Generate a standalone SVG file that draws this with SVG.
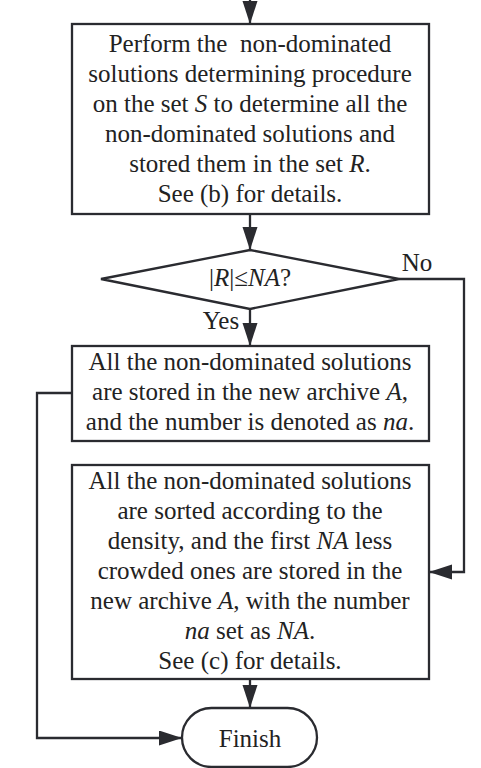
<svg xmlns="http://www.w3.org/2000/svg" width="481" height="768" viewBox="0 0 481 768">
<style>
.box{fill:#fff;stroke:#2a2b30;stroke-width:2.3}
.ln{fill:none;stroke:#2a2b30;stroke-width:2.3}
text{font-family:"Liberation Serif","Times New Roman",serif;font-size:25px;fill:#222;text-anchor:middle}
.i{font-style:italic}
</style>
<defs>
<marker id="ah" markerUnits="userSpaceOnUse" markerWidth="24" markerHeight="16" refX="23" refY="7.5" orient="auto" viewBox="0 0 24 16">
<path d="M0,0 L23,7.5 L0,15 Z" fill="#2a2b30"/>
</marker>
</defs>
<rect width="481" height="768" fill="#fff"/>
<g id="connectors">
<line class="ln" x1="250" y1="-4" x2="250" y2="24" marker-end="url(#ah)"/>
<line class="ln" x1="250" y1="214" x2="250" y2="250" marker-end="url(#ah)"/>
<line class="ln" x1="250" y1="309" x2="250" y2="346" marker-end="url(#ah)"/>
<polyline class="ln" points="399,279 464,279 464,572 429,572" marker-end="url(#ah)"/>
<line class="ln" x1="250" y1="679" x2="250" y2="708" marker-end="url(#ah)"/>
<polyline class="ln" points="72,393 37,393 37,738 182,738" marker-end="url(#ah)"/>
<text x="417" y="271">No</text>
<text x="221" y="329">Yes</text>
</g>
<g id="n1">
<rect class="box" x="72" y="24" width="357" height="190"/>
<text x="250" y="52" style="white-space:pre">Perform the  non-dominated</text>
<text x="250" y="82">solutions determining procedure</text>
<text x="250" y="112">on the set <tspan class="i">S</tspan> to determine all the</text>
<text x="250" y="142">non-dominated solutions and</text>
<text x="250" y="172">stored them in the set <tspan class="i">R</tspan>.</text>
<text x="250" y="202">See (b) for details.</text>
</g>
<g id="n2">
<polygon class="box" points="250,250 399,279 250,309 101,279"/>
<text x="250" y="286">|<tspan class="i">R</tspan>|≤<tspan class="i">NA</tspan>?</text>
</g>
<g id="n3">
<rect class="box" x="72" y="346" width="357" height="95"/>
<text x="250" y="370">All the non-dominated solutions</text>
<text x="250" y="400">are stored in the new archive <tspan class="i">A</tspan>,</text>
<text x="250" y="430">and the number is denoted as <tspan class="i">na</tspan>.</text>
</g>
<g id="n4">
<rect class="box" x="72" y="465" width="357" height="214"/>
<text x="250" y="489">All the non-dominated solutions</text>
<text x="250" y="519">are sorted according to the</text>
<text x="250" y="549">density, and the first <tspan class="i">NA</tspan> less</text>
<text x="250" y="579">crowded ones are stored in the</text>
<text x="250" y="609">new archive <tspan class="i">A</tspan>, with the number</text>
<text x="250" y="639"><tspan class="i">na</tspan> set as <tspan class="i">NA</tspan>.</text>
<text x="250" y="669">See (c) for details.</text>
</g>
<g id="n5">
<rect class="box" x="182" y="708" width="135" height="59" rx="29.5" ry="29.5"/>
<text x="250" y="747">Finish</text>
</g>
</svg>
